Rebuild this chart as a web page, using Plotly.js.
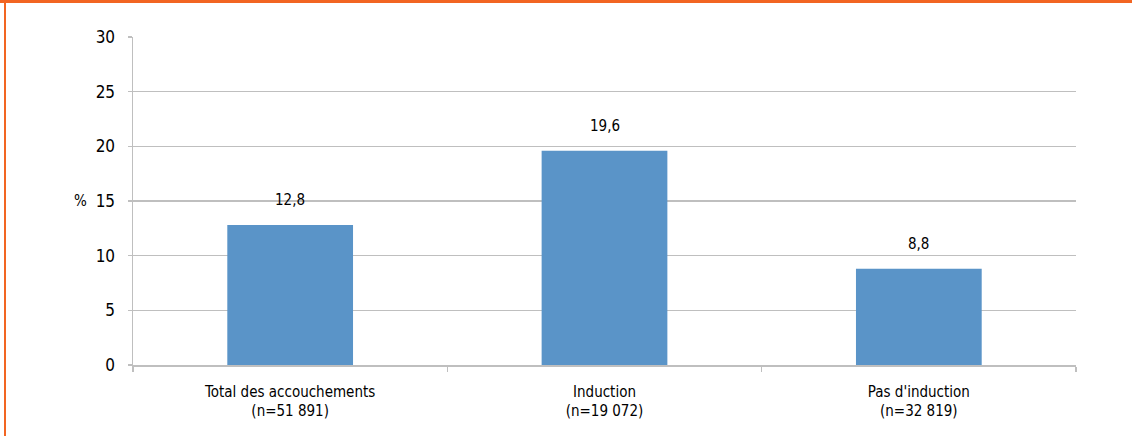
<!DOCTYPE html>
<html>
<head>
<meta charset="utf-8">
<script src="https://cdn.plot.ly/plotly-3.0.1.min.js"></script>
<style>
  html, body { margin: 0; padding: 0; background: #fff; }
  #wrap { position: relative; width: 1132px; height: 436px; overflow: hidden; }
  #chart { position: absolute; left: 0; top: 0; width: 1132px; height: 436px; }
  #topbar { position: absolute; left: 0; top: 0; width: 1132px; height: 3px; background: #F26522; z-index: 5; }
  #leftbar { position: absolute; left: 4px; top: 0; width: 2px; height: 436px; background: #F26522; z-index: 5; }
</style>
</head>
<body>
<div id="wrap">
  <div id="chart"></div>
  <div id="topbar"></div>
  <div id="leftbar"></div>
</div>
<script>
const categories = ["Total des accouchements<br>(n=51 891)", "Induction<br>(n=19 072)", "Pas d'induction<br>(n=32 819)"];
const values = [12.8, 19.6, 8.8];
const valueLabels = ["12,8", "19,6", "8,8"];
const yTicks = [0, 5, 10, 15, 20, 25, 30];

const FONT = "'DejaVu Sans Condensed', 'Liberation Sans Narrow', 'Arial Narrow', sans-serif";
const GRID = "#BFBFBF";
const TXT = "#000";

const trace = {
  type: "bar",
  x: categories,
  y: values,
  marker: { color: "#5A94C8" },
  width: 0.4,
  hoverinfo: "none"
};

const annotations = values.map((v, i) => ({
  x: categories[i], y: v, xref: "x", yref: "y",
  text: valueLabels[i], showarrow: false,
  yanchor: "bottom", yshift: 14,
  font: { family: FONT, size: 15, color: TXT }
}));
annotations.push({
  x: (72 - 133) / (1076 - 133), y: 15, xref: "paper", yref: "y",
  text: "%", showarrow: false,
  font: { family: FONT, size: 15, color: TXT }
});

const layout = {
  width: 1132, height: 436,
  margin: { l: 133, r: 56, t: 37, b: 71 },
  paper_bgcolor: "#fff", plot_bgcolor: "#fff",
  showlegend: false,
  font: { family: FONT, size: 15, color: TXT },
  xaxis: {
    type: "category",
    showgrid: false,
    showline: true, linecolor: GRID, linewidth: 1.5,
    ticks: "outside", tickson: "boundaries", ticklen: 5, tickcolor: GRID, tickwidth: 1.5,
    ticklabelstandoff: 12,
    tickfont: { family: FONT, size: 15, color: TXT },
    zeroline: false,
    fixedrange: true
  },
  yaxis: {
    range: [0, 30],
    tickvals: yTicks,
    ticktext: yTicks.map(String),
    showgrid: true, gridcolor: GRID, gridwidth: 1.3,
    showline: true, linecolor: GRID, linewidth: 1.5,
    ticks: "outside", ticklen: 4, tickcolor: GRID, tickwidth: 1.5,
    ticklabelstandoff: 9,
    tickfont: { family: FONT, size: 17, color: TXT },
    zeroline: false,
    fixedrange: true
  },
  annotations: annotations
};

Plotly.newPlot("chart", [trace], layout, { displayModeBar: false, staticPlot: true });
</script>
</body>
</html>
